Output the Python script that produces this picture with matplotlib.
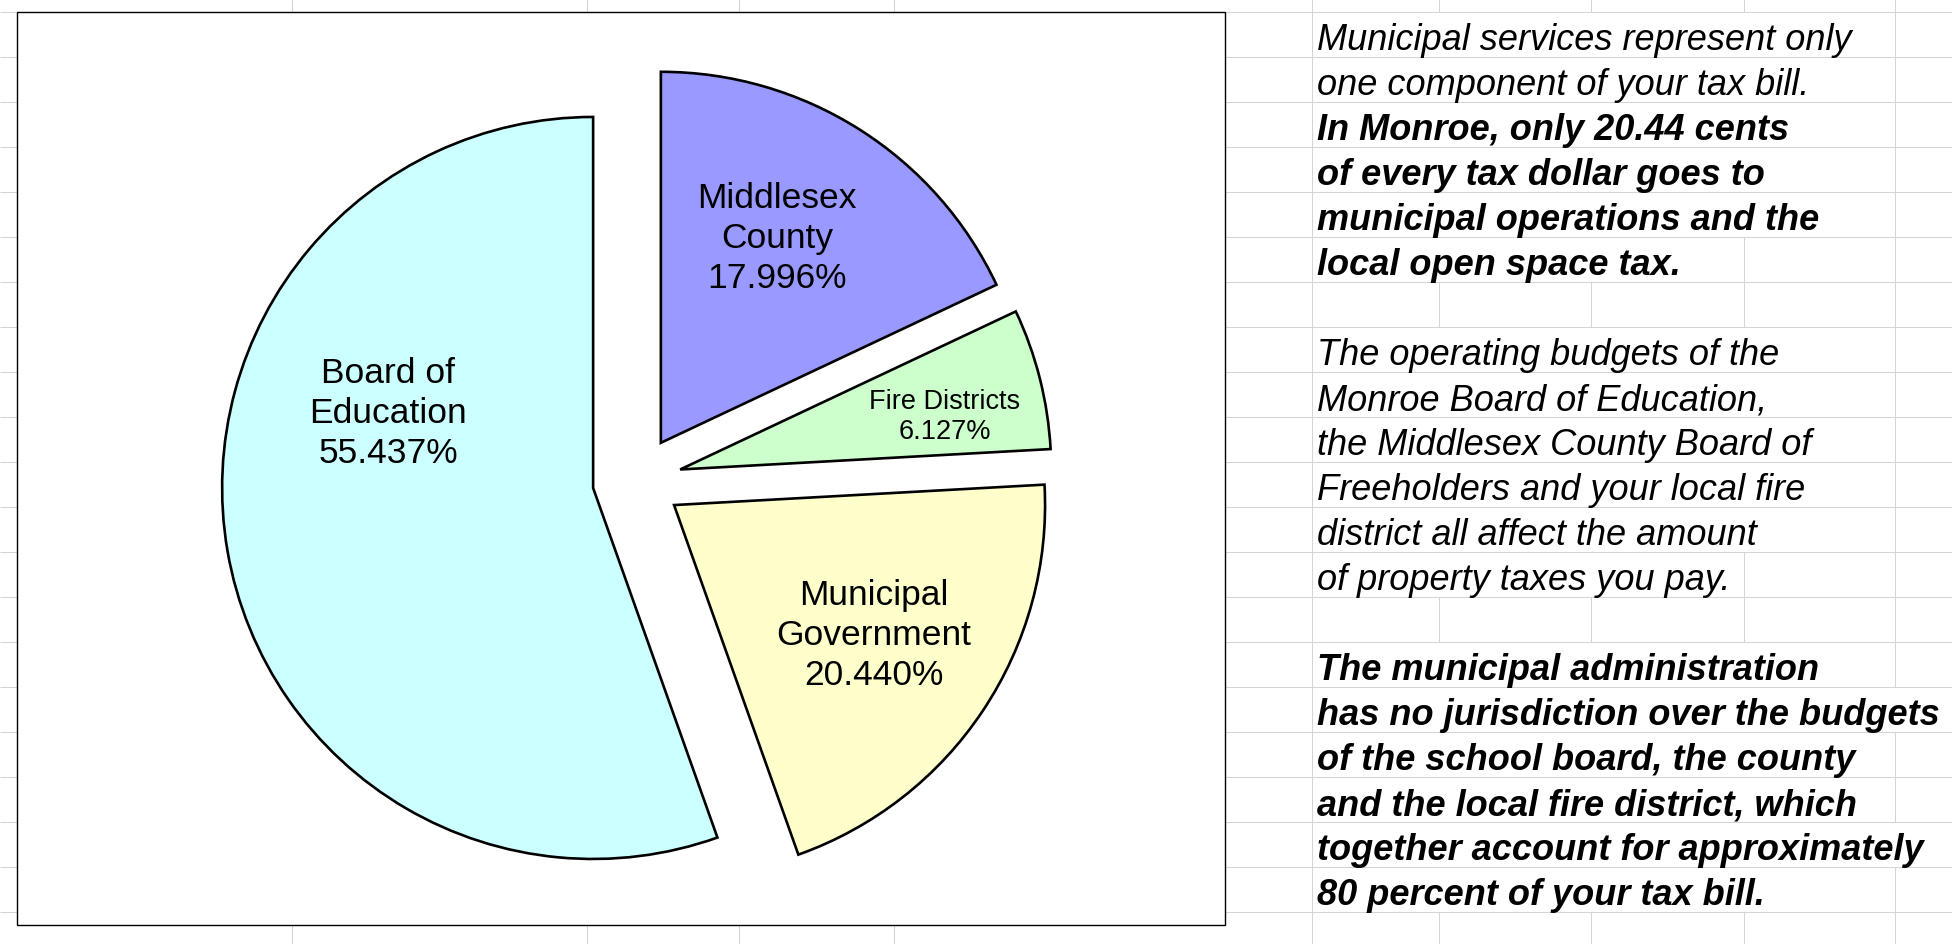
import numpy as np
import matplotlib
matplotlib.use("Agg")
import matplotlib.pyplot as plt
from matplotlib.patches import Rectangle

# ==========================================================
# Data
# ==========================================================

categories = ["Middlesex County", "Fire Districts", "Municipal Government", "Board of Education"]
shares = [17.996, 6.127, 20.440, 55.437]
label_names = ["Middlesex\nCounty", "Fire Districts", "Municipal\nGovernment", "Board of\nEducation"]
colors = ["#9999FF", "#CCFFCC", "#FFFFCC", "#CCFFFF"]

# text in the sheet cells next to the chart, one entry per row ('' = empty row)
note_lines = [
    ("Municipal services represent only", "normal"),
    ("one component of your tax bill.", "normal"),
    ("In Monroe, only 20.44 cents", "bold"),
    ("of every tax dollar goes to", "bold"),
    ("municipal operations and the", "bold"),
    ("local open space tax.", "bold"),
    ("", "normal"),
    ("The operating budgets of the", "normal"),
    ("Monroe Board of Education,", "normal"),
    ("the Middlesex County Board of", "normal"),
    ("Freeholders and your local fire", "normal"),
    ("district all affect the amount", "normal"),
    ("of property taxes you pay.", "normal"),
    ("", "normal"),
    ("The municipal administration", "bold"),
    ("has no jurisdiction over the budgets", "bold"),
    ("of the school board, the county", "bold"),
    ("and the local fire district, which", "bold"),
    ("together account for approximately", "bold"),
    ("80 percent of your tax bill.", "bold"),
]

# ==========================================================
# Layout (pixel units, y measured from the top)
# ==========================================================

W, H = 1952, 945
FONT = "Liberation Sans"
GRID = "#D4D4D4"

row_top = 13.3
row_h = 45.0
col_lines = [292, 587, 739, 894, 1312, 1439, 1591, 1744, 1895]
box = (17, 13.3, 1225, 926)
pie_center = (637, 481.4)
pie_radius = 371
explode_frac = 0.12
label_pos = [(777, 238.5), (945, 417), (874, 635.5), (388, 413.5)]
label_size = [25.5, 19.5, 25.5, 25.5]
label_spacing = [1.27, 1.22, 1.27, 1.27]
text_x = 1317


def fy(y):
    # screen y -> axes y
    return H - y


fig = plt.figure(figsize=(W / 100, H / 100), dpi=100)
ax = fig.add_axes([0, 0, 1, 1])

# Pie (explode is in data units, so scale by the radius)
ax.pie(
    shares,
    colors=colors,
    startangle=90,
    counterclock=False,
    explode=[explode_frac * pie_radius] * len(shares),
    radius=pie_radius,
    center=(pie_center[0], fy(pie_center[1])),
    wedgeprops=dict(edgecolor="black", linewidth=1.9, zorder=3),
)

for name, val, (lx, ly), fs, ls in zip(label_names, shares, label_pos, label_size, label_spacing):
    ax.text(lx, fy(ly), f"{name}\n{val:.3f}%", ha="center", va="center",
            multialignment="center", fontsize=fs, family=FONT,
            linespacing=ls, zorder=4)

ax.set_xlim(0, W)
ax.set_ylim(0, H)
ax.set_aspect("equal")
ax.axis("off")

# Chart area
ax.add_patch(Rectangle((box[0], fy(box[3])), box[2] - box[0], box[3] - box[1],
                       facecolor="white", edgecolor="black", linewidth=1.0, zorder=2))

# Notes
n_rows = 20
note_texts = []
for i, (line, weight) in enumerate(note_lines):
    if not line:
        note_texts.append(None)
        continue
    base = row_top + row_h * (i + 1) - 8
    t = ax.text(text_x, fy(base), line, ha="left", va="baseline",
                fontsize=26, family=FONT, style="italic", weight=weight, zorder=4)
    note_texts.append(t)

fig.canvas.draw()
renderer = fig.canvas.get_renderer()

# Horizontal gridlines
for k in range(n_rows + 1):
    y = row_top + row_h * k
    ax.hlines(fy(y), 0, W, color=GRID, linewidth=0.75, zorder=1)

# Vertical gridlines, hidden where text spills across cells
segments = [(0, row_top)]
segments += [(row_top + row_h * k, row_top + row_h * (k + 1)) for k in range(n_rows)]
segments += [(row_top + row_h * n_rows, H)]
for j, (y0, y1) in enumerate(segments):
    k = j - 1
    right = -1
    if 0 <= k < n_rows and note_texts[k] is not None:
        right = note_texts[k].get_window_extent(renderer).x1
    for x in col_lines:
        if x > text_x and x < right:
            continue
        ax.vlines(x, fy(y1), fy(y0), color=GRID, linewidth=0.75, zorder=1)

fig.savefig("out.png", dpi=100, facecolor="white")
